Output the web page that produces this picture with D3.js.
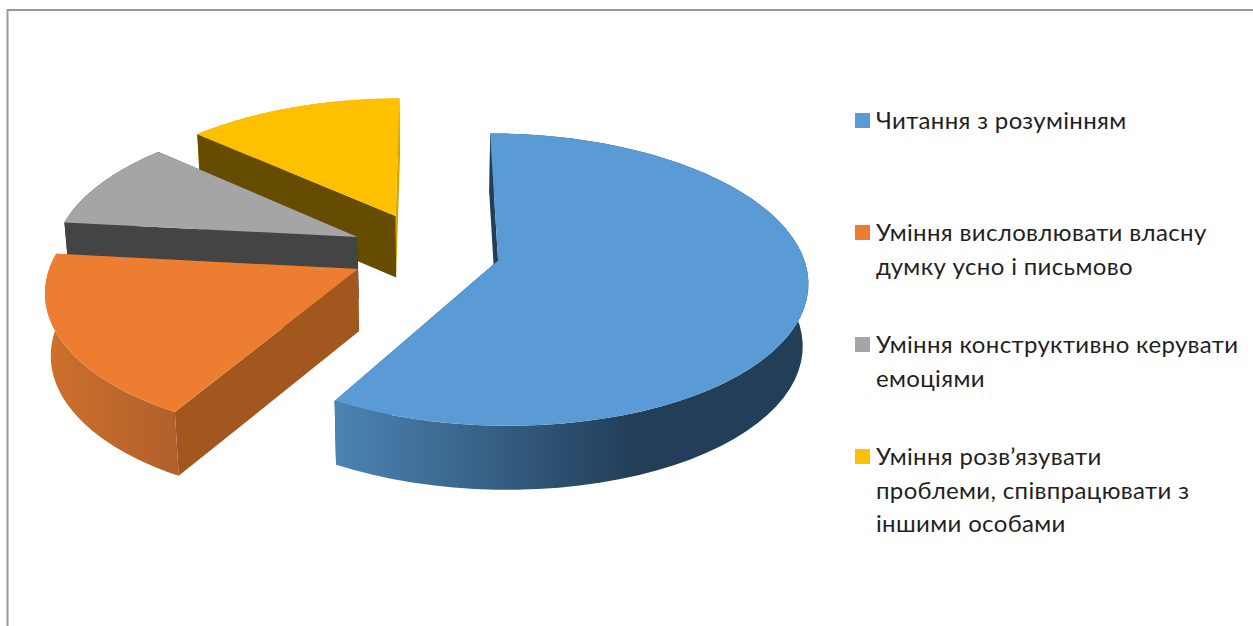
<!DOCTYPE html>
<html>
<head>
<meta charset="utf-8">
<script src="https://cdn.jsdelivr.net/npm/d3@7/dist/d3.min.js"></script>
<style>
  html, body { margin: 0; padding: 0; background: #fff; }
  svg { display: block; }
  text { font-family: Lato, "Open Sans", sans-serif; font-size: 24px; letter-spacing: 0.35px; fill: #1f1f1f; }
</style>
</head>
<body>
<svg id="chart" width="1253" height="626"></svg>
<script>
'use strict';

// values, in percent
var categories = [
    ['Читання з розумінням'],
    ['Уміння висловлювати власну', 'думку усно і письмово'],
    ['Уміння конструктивно керувати', 'емоціями'],
    ['Уміння розв’язувати', 'проблеми, співпрацювати з', 'іншими особами']
];
var values = [58.3, 18.4, 10, 13.3];
var explode = [0.23, 0.262, 0.265, 0.288];
var colors = ['#5B9BD5', '#ED7D31', '#A5A5A5', '#FFC000'];
var cutColors = ['#223E59', '#A2571F', '#444444', '#664C00'];
var cutEndColors = ['#223E59', '#A2571F', '#444444', '#D9A400'];
var rimFrom = ['#4C84B4', '#CE712C', '#444444', '#D9A400'];
var rimTo = ['#223E59', '#B2602A', '#444444', '#D9A400'];
var legendTop = [129, 241, 353, 465];

var svg = d3.select('#chart'),
    defs = svg.append('defs');

// frame of the pasted picture
svg.append('path')
    .attr('d', 'M7.5,626V10H1253')
    .attr('fill', 'none')
    .attr('stroke', '#999')
    .attr('stroke-width', 2);

var center = { x: 430, y: 252 },
    radiusX = 304,
    radiusY = 141.5,
    perspective = 0.13,
    depth = 62;

// x,y are on the pie's plane with y toward the viewer, z is 0 on top and 1 below
function project(x, y, z) {
    var s = 1 / (1 - perspective * y),
        shrink = 1 - 0.015 * z;
    return [
        center.x + radiusX * x * s * shrink,
        center.y + radiusY * y * s + depth * z * (1 + 0.03 * y)
    ];
}

var pie = d3.pie().sort(null);

var slices = pie(values);
var line = d3.line();

function edge(d, i, z) {
    var mid = (d.startAngle + d.endAngle) / 2,
        ox = explode[i] * Math.sin(mid),
        oy = -explode[i] * Math.cos(mid),
        pts = d3.range(0, 61).map(function(k) {
            var a = d.startAngle + (d.endAngle - d.startAngle) * k / 60;
            return project(ox + Math.sin(a), oy - Math.cos(a), z);
        });
    return { apex: project(ox, oy, z), arc: pts };
}

// back slices first so the front ones cover them
[3, 2, 1, 0].forEach(function(i) {
    var d = slices[i],
        top = edge(d, i, 0),
        bottom = edge(d, i, 1),
        g = svg.append('g'),
        first = top.arc[0],
        last = top.arc[top.arc.length - 1];

    var gradient = defs.append('linearGradient')
        .attr('id', 'rim' + i)
        .attr('gradientUnits', 'userSpaceOnUse')
        .attr('x1', i === 0 ? last[0] : d3.min(top.arc, function(p) { return p[0]; }))
        .attr('x2', i === 0 ? last[0] + 300 : first[0])
        .attr('y1', 0)
        .attr('y2', 0);
    gradient.append('stop').attr('offset', 0).attr('stop-color', rimFrom[i]);
    gradient.append('stop').attr('offset', 1).attr('stop-color', rimTo[i]);

    // cut face at the end of the slice
    g.append('path')
        .attr('d', line([top.apex, last, bottom.arc[bottom.arc.length - 1], bottom.apex]) + 'Z')
        .attr('fill', cutEndColors[i]);

    // round side
    g.append('path')
        .attr('d', line(top.arc.concat(bottom.arc.slice().reverse())) + 'Z')
        .attr('fill', 'url(#rim' + i + ')');

    // cut face at the start of the slice
    g.append('path')
        .attr('d', line([top.apex, first, bottom.arc[0], bottom.apex]) + 'Z')
        .attr('fill', cutColors[i]);

    // top face
    g.append('path')
        .attr('d', line([top.apex].concat(top.arc)) + 'Z')
        .attr('fill', colors[i]);
});

// legend
var legend = svg.selectAll('g.legend')
    .data(categories)
    .enter().append('g')
    .attr('class', 'legend')
    .attr('transform', function(d, i) { return 'translate(855,' + legendTop[i] + ')'; });

legend.append('rect')
    .attr('y', -16)
    .attr('width', 15)
    .attr('height', 15)
    .attr('fill', function(d, i) { return colors[i]; });

legend.selectAll('text')
    .data(function(d) { return d; })
    .enter().append('text')
    .attr('x', 21)
    .attr('y', function(d, j) { return j * 33.5; })
    .text(function(d) { return d; });
</script>
</body>
</html>
